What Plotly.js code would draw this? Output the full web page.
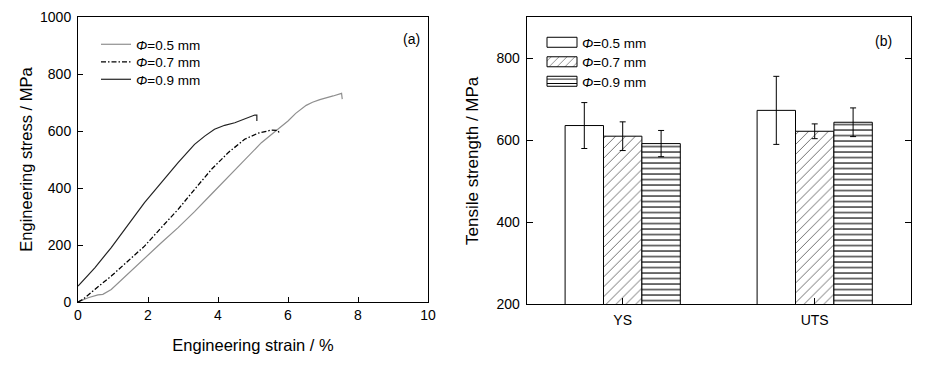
<!DOCTYPE html>
<html>
<head>
<meta charset="utf-8">
<script src="https://cdn.plot.ly/plotly-3.0.1.min.js"></script>
<style>html,body{margin:0;padding:0;background:#fff;}</style>
</head>
<body>
<div id="chart" style="width:932px;height:368px;"></div>
<script>
// ---- (a) stress-strain curves ----
const strain05 = [0, 0.29, 0.57, 0.71, 0.95, 1.43, 1.90, 2.38, 2.86, 3.33, 3.81, 4.29, 4.76, 5.24, 5.71, 6.00, 6.22, 6.52, 6.70, 6.91, 7.29, 7.53, 7.55];
const stress05 = [0, 15, 25, 27, 44, 99, 156, 208, 261, 317, 378, 439, 501, 559, 606, 635, 662, 690, 701, 710, 723, 732, 712];
const strain07 = [0, 0.14, 0.48, 0.95, 1.43, 1.90, 2.38, 2.86, 3.33, 3.81, 4.29, 4.76, 5.14, 5.52, 5.71, 5.76];
const stress07 = [0, 9, 44, 91, 144, 196, 261, 325, 395, 465, 524, 571, 592, 603, 602, 591];
const strain09 = [0, 0.48, 0.95, 1.43, 1.90, 2.38, 2.86, 3.33, 3.62, 3.90, 4.19, 4.48, 4.76, 5.05, 5.11, 5.11];
const stress09 = [56, 120, 191, 273, 349, 419, 489, 553, 582, 606, 620, 629, 643, 656, 656, 635];

// ---- (b) tensile strength bars ----
const categories = ['YS', 'UTS'];
const val05 = [636, 673];
const err05 = [56, 83];
const val07 = [610, 622];
const err07 = [35, 18];
const val09 = [592, 644];
const err09 = [32, 35];
const seriesNames = ['<i>Φ</i>=0.5 mm', '<i>Φ</i>=0.7 mm', '<i>Φ</i>=0.9 mm'];

const W = 932, H = 368;
const px = v => v / W;
const py = v => (H - v) / H;

const traces = [
  {x: strain05, y: stress05, type: 'scatter', mode: 'lines', name: seriesNames[0],
   line: {color: '#8f8f8f', width: 1.2}, xaxis: 'x', yaxis: 'y', legend: 'legend'},
  {x: strain07, y: stress07, type: 'scatter', mode: 'lines', name: seriesNames[1],
   line: {color: '#000', width: 1.3, dash: '5px,2px,1.5px,2px'}, xaxis: 'x', yaxis: 'y', legend: 'legend'},
  {x: strain09, y: stress09, type: 'scatter', mode: 'lines', name: seriesNames[2],
   line: {color: '#222', width: 1.2}, xaxis: 'x', yaxis: 'y', legend: 'legend'},

  {x: categories, y: val05, type: 'bar', name: seriesNames[0], xaxis: 'x2', yaxis: 'y2', legend: 'legend2',
   marker: {color: '#fff', line: {color: '#000', width: 1}},
   error_y: {type: 'data', array: err05, color: '#000', thickness: 1, width: 3}},
  {x: categories, y: val07, type: 'bar', name: seriesNames[1], xaxis: 'x2', yaxis: 'y2', legend: 'legend2',
   marker: {color: '#fff', line: {color: '#000', width: 1},
            pattern: {shape: '/', fgcolor: '#6e6e6e', bgcolor: '#fff', size: 7, solidity: 0.14}},
   error_y: {type: 'data', array: err07, color: '#000', thickness: 1, width: 3}},
  {x: categories, y: val09, type: 'bar', name: seriesNames[2], xaxis: 'x2', yaxis: 'y2', legend: 'legend2',
   marker: {color: '#fff', line: {color: '#000', width: 1},
            pattern: {shape: '-', fgcolor: '#000', bgcolor: '#fff', size: 5.5, solidity: 0.2}},
   error_y: {type: 'data', array: err09, color: '#000', thickness: 1, width: 3}}
];

const axisCommon = {
  showgrid: false, zeroline: false, showline: true, linecolor: '#000', linewidth: 1,
  ticks: 'inside', tickcolor: '#000', tickwidth: 1,
  tickfont: {size: 14, color: '#000'}
};

const layout = {
  width: W, height: H,
  margin: {l: 0, r: 0, t: 0, b: 0},
  paper_bgcolor: '#fff', plot_bgcolor: '#fff',
  font: {family: '"Liberation Sans", Arial, sans-serif', color: '#000'},
  showlegend: true,
  barmode: 'group', bargap: 0.4, bargroupgap: 0,
  xaxis: Object.assign({}, axisCommon, {
    domain: [px(78), px(428)], range: [0, 10], dtick: 2, ticklen: 5, mirror: true, anchor: 'y',
    title: {text: 'Engineering strain / %', font: {size: 16.5}, standoff: 17}
  }),
  yaxis: Object.assign({}, axisCommon, {
    domain: [py(302), py(17)], range: [0, 1000], dtick: 200, ticklen: 5, mirror: true, anchor: 'x',
    ticklabelstandoff: 3,
    title: {text: 'Engineering stress / MPa', font: {size: 16.5}, standoff: 3}
  }),
  xaxis2: Object.assign({}, axisCommon, {
    domain: [px(526.7), px(910.7)], type: 'category', range: [-0.5, 1.5], ticklen: 6, mirror: true, anchor: 'y2',
    ticklabelstandoff: 3
  }),
  yaxis2: Object.assign({}, axisCommon, {
    domain: [py(304.3), py(17.3)], range: [200, 900], dtick: 200, ticklen: 6, mirror: 'ticks', anchor: 'x2',
    ticklabelstandoff: 3,
    title: {text: 'Tensile strength / MPa', font: {size: 17}, standoff: 13}
  }),
  legend: {x: px(96), y: py(29), xanchor: 'left', yanchor: 'top', bgcolor: 'rgba(0,0,0,0)',
           font: {size: 13.5, color: '#000'}, tracegroupgap: 0},
  legend2: {x: px(542), y: py(27), xanchor: 'left', yanchor: 'top', bgcolor: 'rgba(0,0,0,0)',
            font: {size: 13.5, color: '#000'}, tracegroupgap: 0},
  annotations: [
    {text: '(a)', x: px(411), y: py(29), xref: 'paper', yref: 'paper', showarrow: false,
     font: {size: 14, color: '#000'}},
    {text: '(b)', x: px(894), y: py(31), xref: 'paper', yref: 'paper', showarrow: false,
     font: {size: 14, color: '#000'}}
  ]
};

function respace(gd, sel, gap) {
  const items = gd.querySelectorAll(sel + ' .traces');
  if (!items.length) return;
  const m = /translate\(\s*([-\d.]+)[ ,]+([-\d.]+)\s*\)/.exec(items[0].getAttribute('transform') || '');
  if (!m) return;
  const x0 = parseFloat(m[1]), y0 = parseFloat(m[2]);
  items.forEach(function (it, i) {
    it.setAttribute('transform', 'translate(' + x0 + ',' + (y0 + i * gap) + ')');
  });
}

Plotly.newPlot('chart', traces, layout, {staticPlot: true, displayModeBar: false}).then(function (gd) {
  // widen the bar legend swatches to match the reference's rectangular keys
  gd.querySelectorAll('.legend2 .legendpoints path').forEach(function (p) {
    p.setAttribute('d', 'M15,5H-15V-5H15Z');
  });
  respace(gd, '.legend', 17.5);
  respace(gd, '.legend2', 19.5);
});
</script>
</body>
</html>
